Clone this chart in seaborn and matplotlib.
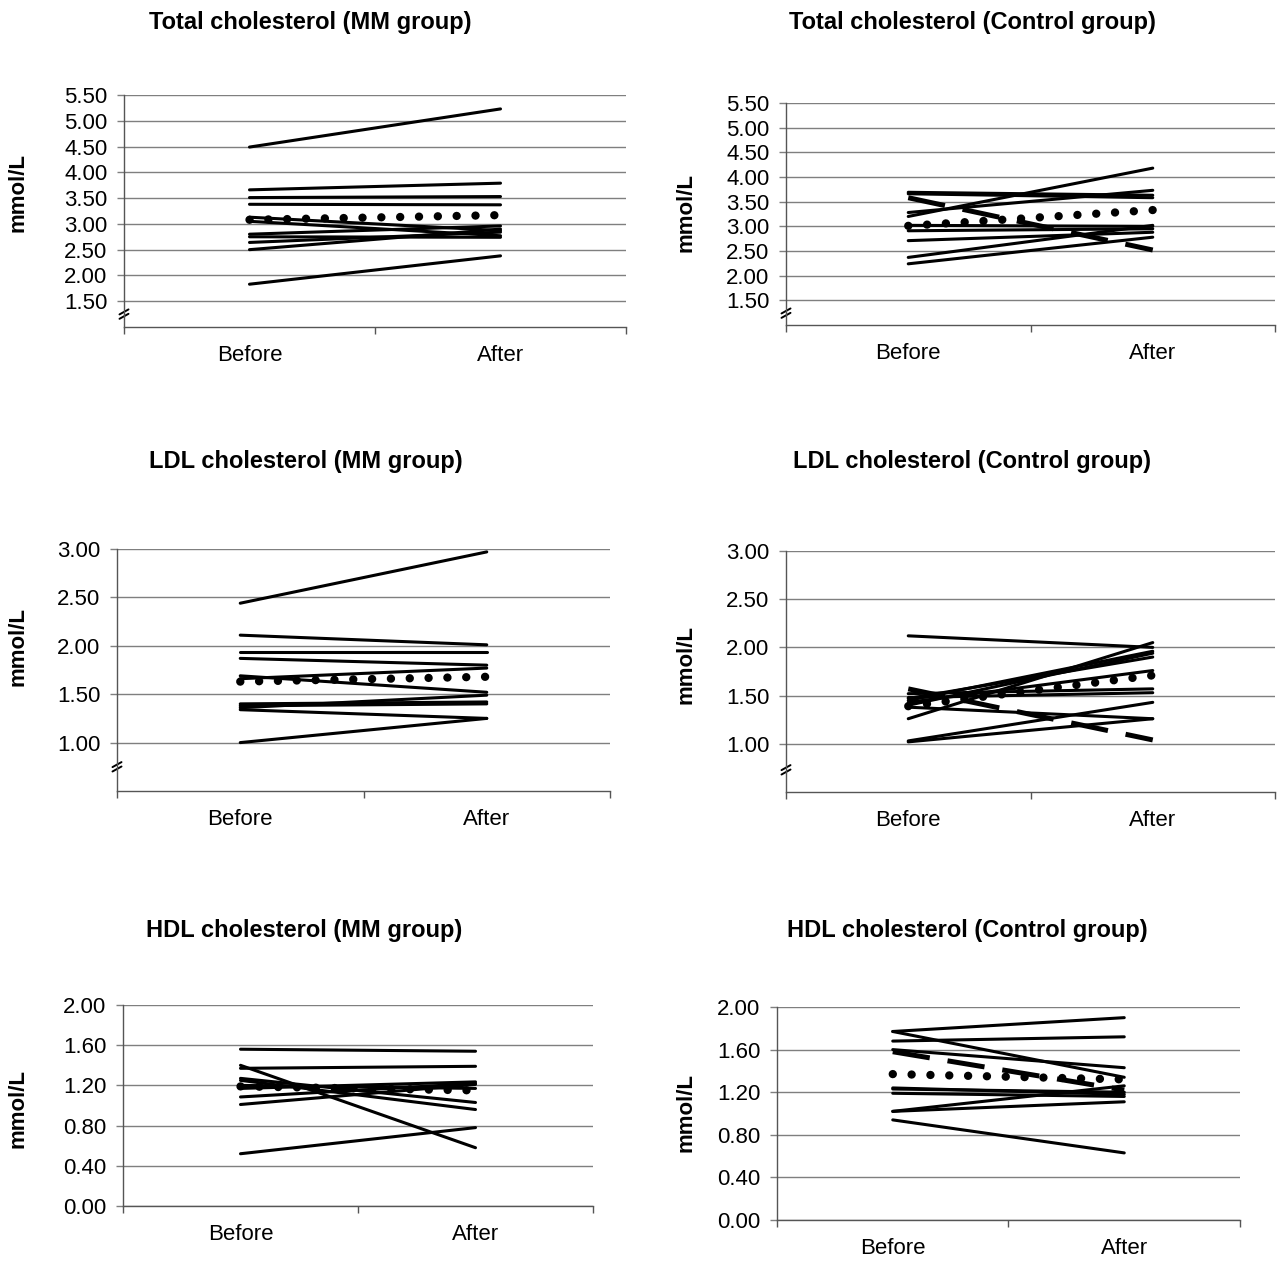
import numpy as np
import pandas as pd
import seaborn as sns
import matplotlib.pyplot as plt
import matplotlib.transforms as mtransforms

sns.set_style("white")
plt.rcParams['font.family'] = ['Liberation Sans', 'DejaVu Sans']
plt.rcParams['text.color'] = 'black'
plt.rcParams['xtick.color'] = 'black'
plt.rcParams['ytick.color'] = 'black'
plt.rcParams['axes.labelcolor'] = 'black'

times = ["Before", "After"]

# Total cholesterol, MM group
tc_mm_before = [4.49, 3.66, 3.51, 3.38, 3.13, 3.05, 2.80, 2.75, 2.64, 2.50, 1.83]
tc_mm_after = [5.23, 3.79, 3.53, 3.37, 2.87, 2.77, 2.96, 2.74, 2.84, 2.90, 2.38]
tc_mm_mean = [3.08, 3.17]

# Total cholesterol, control group
tc_ctrl_before = [3.20, 3.28, 3.69, 3.66, 2.91, 2.71, 2.37, 2.24, 3.02]
tc_ctrl_after = [4.18, 3.73, 3.63, 3.58, 2.95, 2.88, 3.02, 2.78, 3.00]
tc_ctrl_dashed = [3.58, 2.52]
tc_ctrl_mean = [3.01, 3.33]

# LDL cholesterol, MM group
ldl_mm_before = [2.44, 2.11, 1.94, 1.87, 1.66, 1.69, 1.40, 1.38, 1.36, 1.34, 1.00]
ldl_mm_after = [2.97, 2.01, 1.94, 1.80, 1.77, 1.52, 1.42, 1.40, 1.49, 1.25, 1.25]
ldl_mm_mean = [1.63, 1.68]

# LDL cholesterol, control group
ldl_ctrl_before = [2.12, 1.26, 1.45, 1.47, 1.43, 1.52, 1.48, 1.38, 1.03, 1.02, 1.40]
ldl_ctrl_after = [2.00, 2.05, 1.96, 1.90, 1.76, 1.57, 1.53, 1.26, 1.43, 1.26, 1.94]
ldl_ctrl_dashed = [1.57, 1.04]
ldl_ctrl_mean = [1.39, 1.71]

# HDL cholesterol, MM group
hdl_mm_before = [1.56, 1.40, 1.37, 1.27, 1.25, 1.20, 1.17, 1.085, 1.01, 0.52]
hdl_mm_after = [1.54, 0.58, 1.39, 1.03, 0.96, 1.17, 1.235, 1.22, 1.21, 0.78]
hdl_mm_mean = [1.19, 1.15]

# HDL cholesterol, control group
hdl_ctrl_before = [1.77, 1.77, 1.68, 1.60, 1.24, 1.19, 1.23, 1.02, 1.02, 0.94]
hdl_ctrl_after = [1.90, 1.34, 1.72, 1.43, 1.18, 1.16, 1.20, 1.26, 1.11, 0.63]
hdl_ctrl_dashed = [1.58, 1.22]
hdl_ctrl_mean = [1.37, 1.32]

tc_ticks = [1.5, 2.0, 2.5, 3.0, 3.5, 4.0, 4.5, 5.0, 5.5]
ldl_ticks = [1.0, 1.5, 2.0, 2.5, 3.0]
hdl_ticks = [0.0, 0.4, 0.8, 1.2, 1.6, 2.0]

W, H = 1279, 1264


def long_df(before, after):
    rows = []
    for i, (b, a) in enumerate(zip(before, after)):
        rows.append({'subject': i, 'time': times[0], 'value': b})
        rows.append({'subject': i, 'time': times[1], 'value': a})
    df = pd.DataFrame(rows)
    df['pos'] = df['time'].map({t: k + 0.5 for k, t in enumerate(times)})
    return df


def px_rect(l, t, r, b):
    return [l / W, 1 - b / H, (r - l) / W, (b - t) / H]


panels = [
    dict(title="Total cholesterol (MM group)", before=tc_mm_before, after=tc_mm_after,
         mean=tc_mm_mean, dashed=None, ylim=(1.0, 5.5), ticks=tc_ticks,
         rect=px_rect(124, 95, 626, 327), title_xy=(310, 22), ylab_xy=(18, 192), brk=1.25),
    dict(title="Total cholesterol (Control group)", before=tc_ctrl_before, after=tc_ctrl_after,
         mean=tc_ctrl_mean, dashed=tc_ctrl_dashed, ylim=(1.0, 5.5), ticks=tc_ticks,
         rect=px_rect(786, 103, 1275, 325), title_xy=(972, 22), ylab_xy=(686, 212), brk=1.24),
    dict(title="LDL cholesterol (MM group)", before=ldl_mm_before, after=ldl_mm_after,
         mean=ldl_mm_mean, dashed=None, ylim=(0.5, 3.0), ticks=ldl_ticks,
         rect=px_rect(117, 549, 610, 791), title_xy=(306, 461), ylab_xy=(18, 647), brk=0.75),
    dict(title="LDL cholesterol (Control group)", before=ldl_ctrl_before, after=ldl_ctrl_after,
         mean=ldl_ctrl_mean, dashed=ldl_ctrl_dashed, ylim=(0.5, 3.0), ticks=ldl_ticks,
         rect=px_rect(786, 551, 1275, 792), title_xy=(972, 461), ylab_xy=(686, 665), brk=0.73),
    dict(title="HDL cholesterol (MM group)", before=hdl_mm_before, after=hdl_mm_after,
         mean=hdl_mm_mean, dashed=None, ylim=(0.0, 2.0), ticks=hdl_ticks,
         rect=px_rect(123, 1005, 593, 1206), title_xy=(304, 930), ylab_xy=(18, 1108), brk=None),
    dict(title="HDL cholesterol (Control group)", before=hdl_ctrl_before, after=hdl_ctrl_after,
         mean=hdl_ctrl_mean, dashed=hdl_ctrl_dashed, ylim=(0.0, 2.0), ticks=hdl_ticks,
         rect=px_rect(777, 1007, 1240, 1220), title_xy=(967, 930), ylab_xy=(686, 1112), brk=None),
]

fig = plt.figure(figsize=(W / 100, H / 100), dpi=100)

for p in panels:
    ax = fig.add_axes(p['rect'])
    d = long_df(p['before'], p['after'])
    sns.lineplot(data=d, x='pos', y='value', units='subject', estimator=None,
                 color='black', lw=2.2, ax=ax, legend=False)
    if p['dashed'] is not None:
        dd = long_df([p['dashed'][0]], [p['dashed'][1]])
        sns.lineplot(data=dd, x='pos', y='value', units='subject', estimator=None,
                     color='black', lw=3.6, linestyle=(0, (7.5, 3.6)), ax=ax, legend=False)
    md = long_df([p['mean'][0]], [p['mean'][1]])
    sns.lineplot(data=md, x='pos', y='value', units='subject', estimator=None,
                 color='black', lw=6.0, linestyle=(0, (0.01, 2.25)),
                 dash_capstyle='round', ax=ax, legend=False)

    ax.set_xlim(0, 2)
    ax.set_ylim(*p['ylim'])
    ax.set_yticks(p['ticks'])
    ax.set_yticklabels([f"{v:.2f}" for v in p['ticks']])
    ax.yaxis.grid(True, color='#7f7f7f', lw=1.0)
    ax.xaxis.grid(False)
    ax.set_xticks([0, 1, 2])
    ax.set_xticklabels([])
    ax.set_xticks([0.5, 1.5], minor=True)
    ax.set_xticklabels(times, minor=True)
    ax.tick_params(axis='x', which='major', bottom=True, length=5, width=1,
                   color='#555555', direction='out')
    ax.tick_params(axis='x', which='minor', bottom=True, length=0, pad=13, labelsize=16)
    ax.tick_params(axis='y', left=True, length=5, width=1, color='#7f7f7f',
                   direction='out', pad=7, labelsize=16)
    for s in ['top', 'right']:
        ax.spines[s].set_visible(False)
    for s in ['left', 'bottom']:
        ax.spines[s].set_color('#555555')
        ax.spines[s].set_linewidth(1.0)
    ax.set_xlabel('')
    ax.set_ylabel('')

    # axis break mark on the y axis
    if p['brk'] is not None:
        trans = mtransforms.blended_transform_factory(ax.transAxes, ax.transData)
        wpx = p['rect'][2] * W
        dx = 4.5 / wpx
        span = p['ylim'][1] - p['ylim'][0]
        hpx = p['rect'][3] * H
        dy = 2.5 / hpx * span
        for off in (-2.2 / hpx * span, 2.2 / hpx * span):
            ax.plot([-dx, dx], [p['brk'] + off - dy, p['brk'] + off + dy],
                    color='black', lw=1.4, transform=trans, clip_on=False)

    fig.text(p['title_xy'][0] / W, 1 - p['title_xy'][1] / H, p['title'],
             ha='center', va='center', fontsize=17, fontweight='bold')
    fig.text(p['ylab_xy'][0] / W, 1 - p['ylab_xy'][1] / H, 'mmol/L',
             ha='center', va='center', rotation=90, fontsize=16, fontweight='bold')

fig.savefig('out.png', dpi=100)
